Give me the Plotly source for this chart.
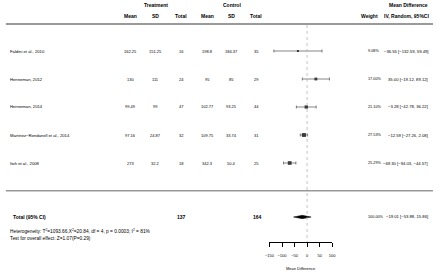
import plotly.graph_objects as go

# ---------------- data ----------------
studies = ["Faldini et al., 2010", "Henneman, 2012", "Henneman, 2014",
           "Martinez\u2212Rondanell et al., 2014", "Itoh et al., 2008"]
trt_mean = ["162.25", "130", "99.49", "97.16", "273"]
trt_sd = ["151.25", "111", "99", "24.87", "32.2"]
trt_n = [16, 24, 47, 32, 18]
ctl_mean = ["198.8", "95", "102.77", "109.75", "342.3"]
ctl_sd = ["184.37", "85", "93.25", "33.74", "50.4"]
ctl_n = [35, 29, 44, 31, 25]
md = [-36.55, 35.00, -3.28, -12.59, -69.30]
md_lower = [-132.59, -19.12, -42.78, -27.26, -94.03]
md_upper = [59.49, 89.12, 36.22, 2.08, -44.57]
weights = [9.08, 17.00, 21.10, 27.53, 25.29]

total_trt_n = 137
total_ctl_n = 164
total_md = -19.01
total_lower = -53.88
total_upper = 15.86
total_weight = 100.00

axis_ticks = [-150, -100, -50, 0, 50, 100]
null_value = 0
heterogeneity = "Heterogeneity: T<sup>2</sup>=1093.66,X<sup>2</sup>=20.84, df = 4, p = 0.0003; I<sup>2</sup> = 81%"
overall_test = "Test for overall effect: Z=1.07(P=0.29)"

# ---------------- layout constants (pixels) ----------------
W, H = 440, 272
FONT = "Liberation Sans, Arial, sans-serif"
ROW_Y0, ROW_STEP = 51, 28
TOTAL_Y = 217
AXIS_Y = 242
X_LEFT_PX, X_RIGHT_PX = 270, 334

def fmt(v):
    s = f"{v:.2f}"
    return s.replace("-", "\u2212")

def px(x, y):
    return x / W, 1 - y / H

annotations = []

def add_text(x, y, text, size=4.0, bold=False, anchor="center", color="black"):
    ax, ay = px(x, y)
    annotations.append(dict(
        x=ax, y=ay, xref="paper", yref="paper", text=f"<b>{text}</b>" if bold else text,
        showarrow=False, xanchor=anchor, yanchor="middle", borderpad=0,
        font=dict(family=FONT, size=size, color=color)))

# headers
add_text(154.5, 5, "Treatment", size=5, bold=True)
add_text(231.5, 5, "Control", size=5, bold=True)
add_text(411.5, 5, "Mean Difference", size=5, bold=True)
col_x = [128.5, 154, 179.7, 206.7, 231.7, 256.7]
for cx, lab in zip(col_x, ["Mean", "SD", "Total", "Mean", "SD", "Total"]):
    add_text(cx, 16, lab, size=5, bold=True)
add_text(372, 16, "Weight", size=5, bold=True)
add_text(409.5, 16, "IV, Random, 95%CI", size=5, bold=True)

row_y = [ROW_Y0 + i * ROW_STEP for i in range(len(studies))]
for i, name in enumerate(studies):
    y = row_y[i]
    add_text(4, y, name, size=4.2, anchor="left")
    vals = [trt_mean[i], trt_sd[i], str(trt_n[i]), ctl_mean[i], ctl_sd[i], str(ctl_n[i])]
    for cx, v in zip(col_x, vals):
        add_text(cx, y, v)
    add_text(370, y, f"{weights[i]:.2f}%", size=3.8, anchor="left")
    add_text(433, y, f"{fmt(md[i])} [{fmt(md_lower[i])}, {fmt(md_upper[i])}]", size=4.2, anchor="right")

# total row
add_text(7, 216.5, "Total (95% CI)", size=5, bold=True, anchor="left")
add_text(180, 216.5, str(total_trt_n), size=5, bold=True)
add_text(257.5, 216.5, str(total_ctl_n), size=5, bold=True)
add_text(370, 216.5, f"{total_weight:.2f}%", size=3.8, anchor="left")
add_text(433, 216.5, f"{fmt(total_md)} [{fmt(total_lower)}, {fmt(total_upper)}]", size=4.2, anchor="right")
add_text(4, 231, heterogeneity, size=4.8, anchor="left")
add_text(4, 238.5, overall_test, size=4.8, anchor="left")
add_text((X_LEFT_PX + X_RIGHT_PX) / 2, 268.5, "Mean Difference", size=4)

fig = go.Figure()

# study points with CIs
fig.add_trace(go.Scatter(
    x=md, y=row_y, mode="markers",
    marker=dict(symbol="square", color="black",
                size=[1 + 0.11 * w for w in weights], line=dict(width=0)),
    error_x=dict(type="data", symmetric=False,
                 array=[u - m for u, m in zip(md_upper, md)],
                 arrayminus=[m - l for m, l in zip(md, md_lower)],
                 color="#333333", thickness=0.6, width=1.5),
    cliponaxis=False, showlegend=False, hoverinfo="skip"))

# summary diamond
dh = 1.7
fig.add_trace(go.Scatter(
    x=[total_lower, total_md, total_upper, total_md, total_lower],
    y=[TOTAL_Y, TOTAL_Y - dh, TOTAL_Y, TOTAL_Y + dh, TOTAL_Y],
    mode="lines", fill="toself", fillcolor="black",
    line=dict(color="black", width=0.5),
    cliponaxis=False, showlegend=False, hoverinfo="skip"))

shapes = [
    # header and footer separator lines
    dict(type="line", xref="paper", yref="paper", x0=0.002, x1=0.993,
         y0=px(0, 24)[1], y1=px(0, 24)[1], line=dict(color="#9a9a9a", width=2)),
    dict(type="line", xref="paper", yref="paper", x0=0.002, x1=0.993,
         y0=px(0, 190.7)[1], y1=px(0, 190.7)[1], line=dict(color="#9a9a9a", width=1.5)),
    # null line
    dict(type="line", xref="x", yref="y", x0=null_value, x1=null_value,
         y0=25, y1=AXIS_Y, line=dict(color="#aaaaaa", width=0.7, dash="dot")),
]

fig.update_layout(
    width=W, height=H,
    margin=dict(l=0, r=0, t=0, b=0),
    paper_bgcolor="white", plot_bgcolor="white",
    annotations=annotations, shapes=shapes,
    xaxis=dict(domain=[X_LEFT_PX / W, X_RIGHT_PX / W], range=[axis_ticks[0], axis_ticks[-1]],
               tickvals=axis_ticks, showgrid=False, zeroline=False,
               showline=True, linecolor="black", linewidth=0.6,
               ticks="outside", ticklen=4, tickwidth=0.6, tickcolor="black",
               tickfont=dict(family=FONT, size=4, color="black"),
               ticklabelstandoff=5, fixedrange=True),
    yaxis=dict(domain=[(H - AXIS_Y) / H, 1], range=[AXIS_Y, 0], visible=False,
               showgrid=False, zeroline=False, fixedrange=True),
    font=dict(family=FONT),
)

fig.write_html("out.html", config={"displayModeBar": False},
               post_script="document.body.style.margin='0';document.body.style.overflow='hidden';")
